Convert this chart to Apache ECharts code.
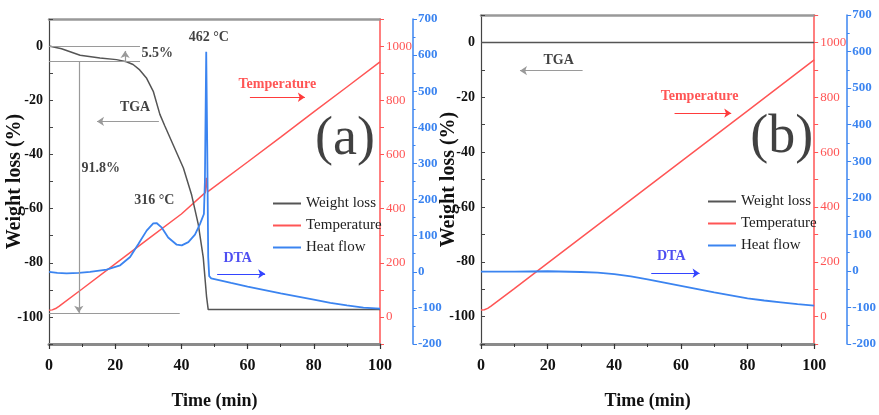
<!DOCTYPE html>
<html><head><meta charset="utf-8">
<script src="https://cdn.jsdelivr.net/npm/echarts@6/dist/echarts.min.js"></script>
<style>html,body{margin:0;padding:0;background:#fff}#c{width:879px;height:415px}</style>
</head><body><div id="c"></div><script>
// ---------- data (time in min) ----------
const weightA = [[0,0],[3.8,-1],[9.4,-3.4],[15.4,-4.4],[20.4,-5],[23.4,-5.8],[25.4,-6.8],[27.4,-8.8],[29.5,-11.9],[31.5,-16.7],[33.5,-25.2],[35,-29.5],[37.6,-36.7],[40.6,-45],[43.1,-55],[45.1,-65.8],[46.6,-78],[47.6,-92.5],[48.1,-97.3],[60,-97.3],[80,-97.3],[100,-97.3]];
const tempA = [[0,25],[1,26],[2,31],[3,39],[10,103],[20,196],[30,288],[40,380],[47.2,459],[47.55,514],[47.9,462],[48.2,462],[60,572],[70,664],[80,757],[90,849],[100,942]];
const heatA = [[0,0],[2.5,-3],[5.3,-4.5],[9,-3],[12.4,0],[17.4,6],[21.5,18],[24.5,41],[27,77],[29.5,114],[31.5,134],[32.5,135],[34,123],[36,95],[38.6,75],[40.1,73],[42.1,82],[44.1,103],[45.6,132],[46.8,160],[47.1,250],[47.5,609],[47.8,350],[48.1,40],[48.4,-12],[49,-18],[55,-31],[60,-41],[70,-60],[80,-77],[85,-86],[90,-93],[95,-99],[100,-102]];

const weightB = [[0,0],[50,0],[100,0]];
const tempB = [[0,24],[1,25],[2,30],[3,38],[10,102],[20,195],[40,380],[60,565],[80,750],[100,936]];
const heatB = [[0,-2],[10,-2],[20,-1],[30,-3],[35,-5],[40,-9],[45,-15],[50,-23],[55,-32],[60,-41],[65,-50],[70,-59],[75,-67],[80,-75],[85,-81],[90,-86],[95,-91],[100,-95]];

const seriesNames = ['Weight loss','Temperature','Heat flow'];

// annotation texts anchored in (time, weight %) units
const notesA = [[32.7,-2.7,'5.5%'],[15.6,-45.2,'91.8%'],[26,-22.8,'TGA'],[31.8,-57,'316 °C'],[48.3,3.3,'462 °C'],[69,-14.3,'Temperature'],[89.4,-34.7,'(a)'],[57,-78.5,'DTA']];
const notesB = [[23.3,-6.6,'TGA'],[65.6,-19.6,'Temperature'],[90.3,-34.8,'(b)'],[57.1,-78.1,'DTA']];
// guide lines [x1,y1,x2,y2,arrowAtEnd] in (time, weight %) units
const guidesA = [[0,0,27.5,0,0],[0,-5.5,27.5,-5.5,0],[23,-5.5,23,-1.8,1],[9,-5.5,9,-98.5,1],[0,-98.5,39.5,-98.5,0],[33.2,-27.8,14.5,-27.8,1]];
const guidesB = [[30.5,-10.3,11.7,-10.3,1]];
const redArrowA = [[60.7,-18.9,77.3,-18.9,1]];
const blueArrowA = [[50.8,-84.1,65.3,-84.1,1]];
const redArrowB = [[58.1,-25.8,75.1,-25.8,1]];
const blueArrowB = [[51.1,-84.2,65.6,-84.2,1]];

// ---------- styling ----------
const FONT = 'Liberation Serif';
const RED = '#ff5555', BLUE = '#3b84f0', GRAYLINE = '#555';
const noteStyle = {
  'Temperature': {color:'#ff2a2a', fontWeight:'bold', fontSize:14},
  'DTA': {color:'#2222ee', fontWeight:'bold', fontSize:14},
  '(a)': {color:'#111', fontWeight:'normal', fontSize:54},
  '(b)': {color:'#111', fontWeight:'normal', fontSize:54}
};
const grids = [{left:49, top:19, width:331, height:329},{left:481, top:15, width:334, height:332}];

const xAxis = [], yAxis = [], series = [];
const panels = [
  {w:weightA, t:tempA, h:heatA, notes:notesA, guides:guidesA, red:redArrowA, blue:blueArrowA},
  {w:weightB, t:tempB, h:heatB, notes:notesB, guides:guidesB, red:redArrowB, blue:blueArrowB}
];
function mk(list){
  return list.map(g => [
    {coord:[g[0],g[1]], symbol:'none', symbolSize:0},
    {coord:[g[2],g[3]], symbol: g[4] ? 'arrow' : 'none', symbolSize: g[4] ? 7 : 0}
  ]);
}
panels.forEach((p,i) => {
  xAxis.push({gridIndex:i, type:'value', min:0, max:100, interval:20, position:'bottom',
    axisLine:{onZero:false, lineStyle:{color:'#8a8a8a', width:3}},
    axisTick:{show:true, length:5, lineStyle:{color:'#333', width:1.2}},
    minorTick:{show:true, splitNumber:2, length:3, lineStyle:{color:'#333'}},
    axisLabel:{color:'#111', fontSize:16, fontWeight:'bold', fontFamily:FONT, margin:14},
    splitLine:{show:false}, minorSplitLine:{show:false},
    name:'Time (min)', nameLocation:'middle', nameGap:48, nameMoveOverlap:false,
    nameTextStyle:{fontSize:18, fontWeight:'bold', color:'#111', fontFamily:FONT}});
  xAxis.push({gridIndex:i, type:'value', min:0, max:100, position:'top',
    axisLine:{onZero:false, lineStyle:{color:'#999', width:2.5}}, axisTick:{show:false},
    axisLabel:{show:false}, splitLine:{show:false}});
  yAxis.push({gridIndex:i, type:'value', position:'left', min:-110, max:10, interval:10,
    axisLine:{show:true, onZero:false, lineStyle:{color:'#444', width:1.2}},
    axisTick:{show:true, inside:true, length:4, lineStyle:{color:'#444'}},
    axisLabel:{formatter: v => (v % 20 === 0 ? String(v) : ''), color:'#111', fontSize:14, fontWeight:'bold', fontFamily:FONT, margin:6},
    splitLine:{show:false},
    name:'Weight loss (%)', nameLocation:'middle', nameGap:i === 0 ? 24 : 22, nameMoveOverlap:false,
    nameTextStyle:{fontSize:20, fontWeight:'bold', color:'#111', fontFamily:FONT}});
  yAxis.push({gridIndex:i, type:'value', position:'right', min:-100, max:1100, interval:100,
    axisLine:{show:true, onZero:false, lineStyle:{color:RED, width:1.5}},
    axisTick:{show:true, length:4, lineStyle:{color:RED}},
    axisLabel:{formatter: v => ((v >= 0 && v <= 1000 && v % 200 === 0) ? String(v) : ''), color:RED, fontSize:13, fontFamily:FONT, margin:6},
    splitLine:{show:false}});
  yAxis.push({gridIndex:i, type:'value', position:'right', offset:33, min:-200, max:700, interval:100,
    axisLine:{show:true, onZero:false, lineStyle:{color:BLUE, width:1.5}},
    axisTick:{show:true, length:4, lineStyle:{color:BLUE}},
    minorTick:{show:true, splitNumber:2, length:2.5, lineStyle:{color:BLUE}},
    axisLabel:{color:BLUE, fontSize:13, fontWeight:'bold', fontFamily:FONT, margin:5},
    splitLine:{show:false}, minorSplitLine:{show:false}});
  const xi = 2*i, yi = 3*i;
  series.push({name:'Weight loss', type:'line', xAxisIndex:xi, yAxisIndex:yi, data:p.w, symbol:'none', lineStyle:{color:GRAYLINE, width:1.5}, itemStyle:{color:GRAYLINE}, z:3});
  series.push({name:'Temperature', type:'line', xAxisIndex:xi, yAxisIndex:yi+1, data:p.t, symbol:'none', lineStyle:{color:RED, width:1.5}, itemStyle:{color:RED}, z:2});
  series.push({name:'Heat flow', type:'line', xAxisIndex:xi, yAxisIndex:yi+2, data:p.h, symbol:'none', lineStyle:{color:BLUE, width:1.8}, itemStyle:{color:BLUE}, z:4});
  // guides
  [[p.guides,'#9a9a9a',1.2],[p.red,'#ff3b3b',1],[p.blue,'#3344ff',1]].forEach(([list,c,w]) => {
    series.push({type:'line', xAxisIndex:xi, yAxisIndex:yi, data:[], silent:true,
      markLine:{silent:true, animation:false, label:{show:false}, lineStyle:{color:c, width:w, type:'solid'},
        emphasis:{disabled:true}, data:mk(list)}});
  });
  series.push({type:'scatter', xAxisIndex:xi, yAxisIndex:yi, silent:true, symbolSize:2, itemStyle:{color:'rgba(0,0,0,0)'}, z:10,
    labelLayout:{hideOverlap:false},
    data:p.notes.map(n => ({name:n[2], value:[n[0],n[1]],
      label:Object.assign({show:true, position:'inside', formatter:'{b}', fontFamily:FONT, color:'#111', fontWeight:'bold', fontSize:14}, noteStyle[n[2]] || {})}))});
});

const legendBase = {data:seriesNames, orient:'vertical', icon:'rect', itemWidth:28, itemHeight:2, itemGap:7, selectedMode:false,
  textStyle:{fontFamily:FONT, fontSize:15, color:'#222', lineHeight:15}};
const chart = echarts.init(document.getElementById('c'), null, {renderer:'canvas'});
chart.setOption({
  animation:false,
  textStyle:{fontFamily:FONT},
  grid:grids,
  legend:[Object.assign({left:268, top:191}, legendBase), Object.assign({left:703, top:189}, legendBase)],
  xAxis, yAxis, series
});
</script></body></html>
